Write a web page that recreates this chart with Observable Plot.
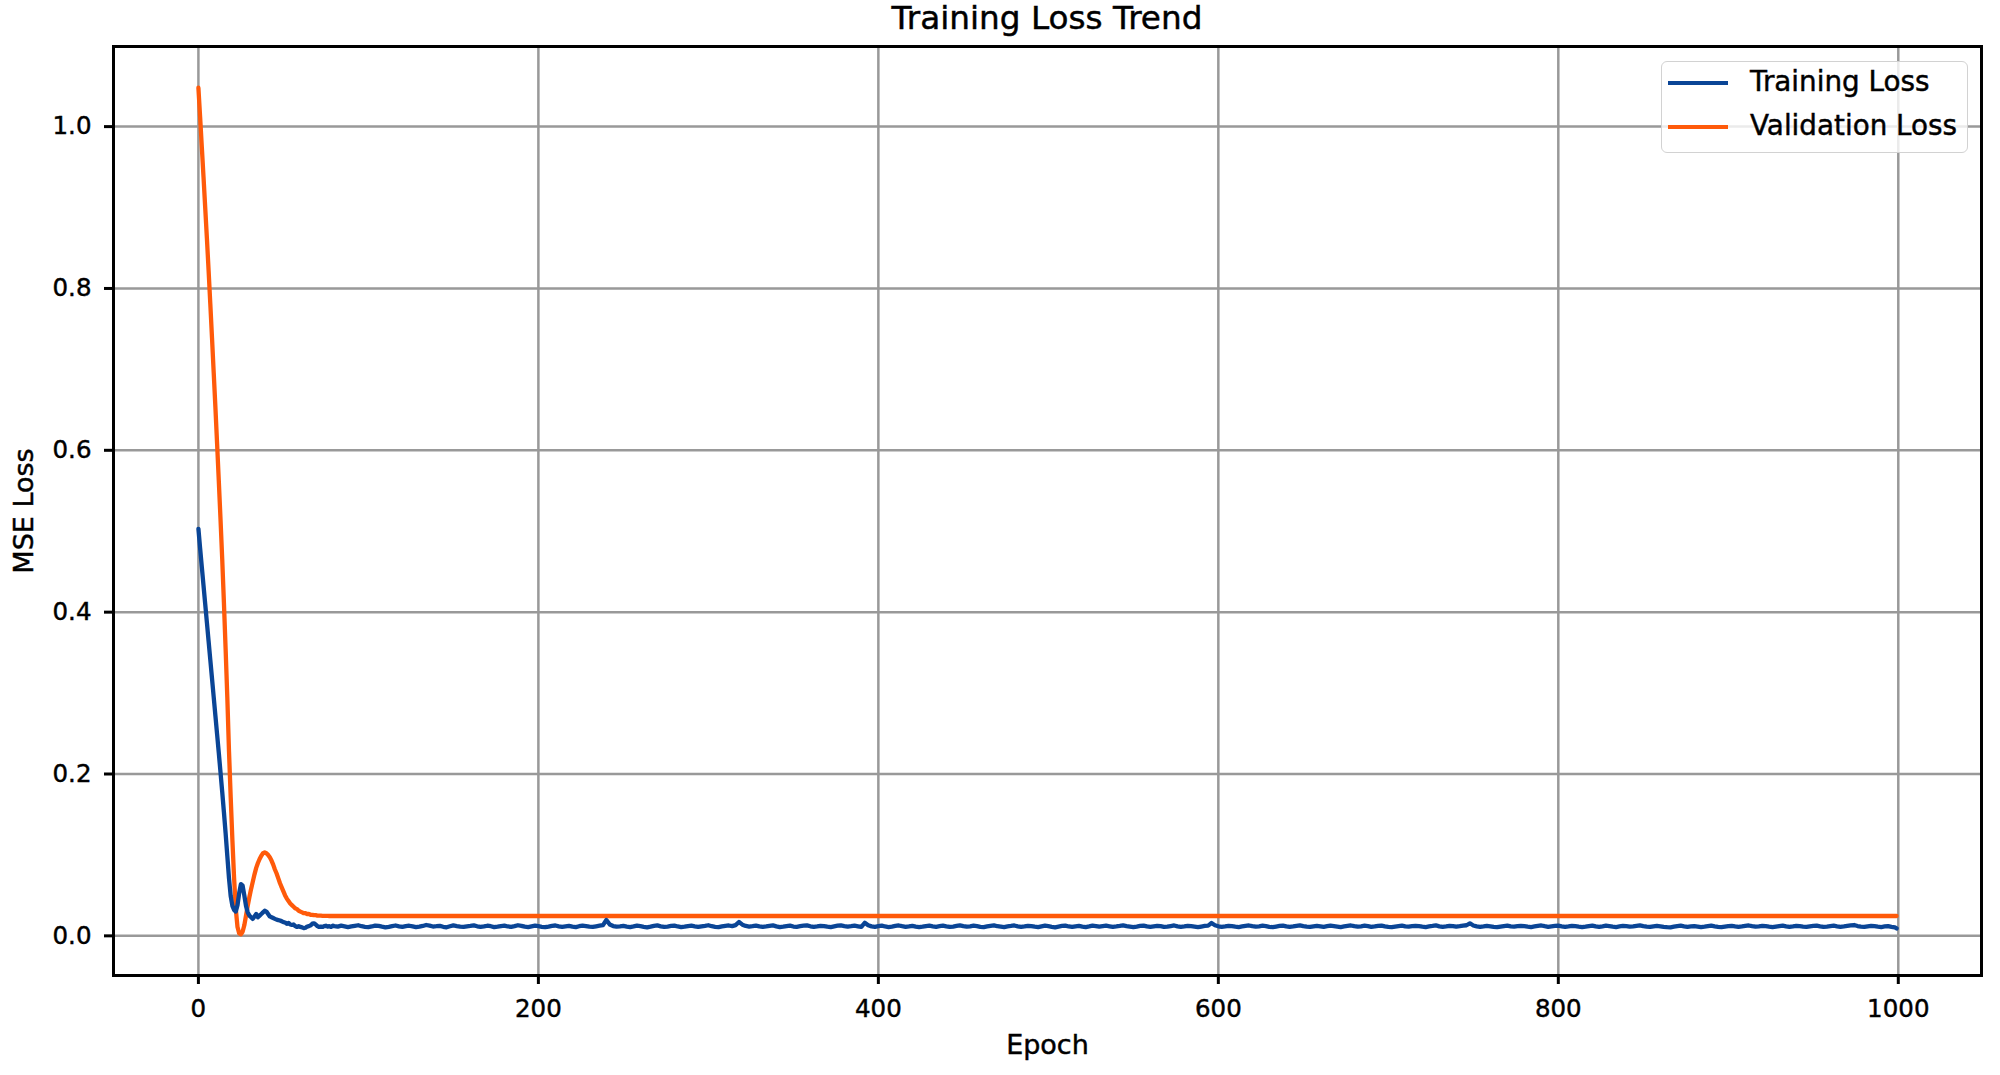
<!DOCTYPE html>
<html>
<head>
<meta charset="utf-8">
<script src="https://cdn.jsdelivr.net/npm/d3@7"></script>
<script src="https://cdn.jsdelivr.net/npm/@observablehq/plot@0.6"></script>
<style>
  html, body { margin: 0; padding: 0; background: #fff; }
  #wrap { position: relative; width: 2000px; height: 1075px; font-family: "DejaVu Sans", sans-serif; color: #000; }
  #title { box-sizing: border-box; height: 44px; padding-top: 2px; font-size: 32.7px; line-height: 32px; text-align: center; padding-left: 94px; white-space: nowrap; -webkit-text-stroke: 0.45px #000; }
  #chart svg { display: block; }
  #chart svg text { stroke: #000; stroke-width: 0.45px; }
  #legend { position: absolute; left: 1661px; top: 61px; width: 307px; height: 92px; box-sizing: border-box;
            border: 1.5px solid #d2d2d2; border-radius: 6px; background: rgba(255,255,255,0.8); }
  .item { position: absolute; left: 0; height: 0; }
  .swatch { position: absolute; left: 6px; width: 60px; height: 4px; margin-top: -2px; }
  .lbl { position: absolute; left: 88px; top: -17px; font-size: 27.8px; line-height: 32px; white-space: nowrap; -webkit-text-stroke: 0.45px #000; }
</style>
</head>
<body>
<div id="wrap">
  <div id="title"></div>
  <div id="chart"></div>
  <div id="legend"></div>
</div>
<script>
// ---- Data ----
const titleText = "Training Loss Trend";
const xLabel = "Epoch";
const yLabel = "MSE Loss";
const seriesNames = ["Training Loss", "Validation Loss"];
const seriesColors = ["#0a4596", "#ff5a0a"];
const xTicks = [0, 200, 400, 600, 800, 1000];
const yTicks = [0.0, 0.2, 0.4, 0.6, 0.8, 1.0];

// Training loss, epochs 0..79 (one value per epoch)
const trainHead = [
  0.503,0.479,0.456,0.433,0.410,0.387,0.364,0.341,0.318,0.295,
  0.272,0.249,0.226,0.202,0.178,0.153,0.127,0.099,0.071,0.049,
  0.037,0.032,0.030,0.038,0.053,0.064,0.062,0.050,0.037,0.029,
  0.025,0.023,0.021,0.024,0.027,0.023,0.025,0.027,0.029,0.031,
  0.030,0.027,0.024,0.023,0.022,0.021,0.020,0.0195,0.019,0.018,
  0.017,0.0165,0.015,0.016,0.014,0.0135,0.014,0.012,0.011,0.012,
  0.011,0.0105,0.0095,0.010,0.0115,0.012,0.013,0.015,0.0155,0.014,
  0.012,0.011,0.0115,0.011,0.012,0.0125,0.0115,0.012,0.011,0.0125
];
// Training loss, epochs 80, 82, ..., 998 (units of 1e-4)
const trainTailStart = 80;
const trainTailStep = 2;
const trainTail = [
  121,114,126,118,109,117,124,131,119,112,108,116,127,122,113,105,111,120,128,117,
  110,119,125,116,107,113,122,134,126,115,119,124,112,106,118,129,121,114,110,117,
  123,130,118,111,116,125,119,108,114,121,127,116,112,120,131,124,113,109,118,126,
  119,112,107,115,124,128,117,110,116,122,113,108,119,127,121,114,111,118,125,132,
  196,140,121,113,118,124,115,109,117,126,120,112,106,114,123,129,118,111,115,122,
  127,116,108,113,121,125,117,110,118,124,131,119,112,107,116,123,128,120,133,171,
  138,122,115,119,126,117,111,116,123,129,118,109,114,121,127,115,112,119,125,130,
  118,111,116,124,120,113,108,117,125,129,121,114,119,126,118,110,162,131,117,112,
  120,127,116,109,114,122,128,119,111,117,124,115,108,113,121,126,118,112,119,125,
  117,110,115,123,129,120,113,118,126,121,112,107,116,124,130,119,114,109,117,122,
  128,118,111,116,124,120,113,108,117,125,119,112,106,114,122,127,116,110,118,123,
  115,109,117,126,121,113,119,125,118,111,116,122,129,120,114,108,115,123,127,117,
  112,118,124,119,110,114,121,128,117,111,116,123,119,113,107,115,122,126,158,131,
  118,112,117,124,120,114,109,116,123,128,119,113,118,125,121,112,108,115,122,127,
  117,111,116,123,129,120,114,110,117,124,118,112,119,126,121,115,109,116,122,128,
  119,113,118,125,120,111,116,123,127,118,112,108,115,121,126,117,113,119,124,120,
  114,109,116,122,129,118,112,117,124,120,113,119,126,131,155,128,117,111,116,122,
  118,112,107,115,121,126,117,113,119,124,120,114,109,116,123,128,119,112,117,122,
  126,118,111,116,123,119,113,108,114,121,127,117,112,118,125,120,114,109,116,122,
  119,113,118,124,129,120,114,110,117,123,118,112,107,105,113,120,125,117,111,116,
  121,115,109,114,120,126,118,112,107,113,119,124,117,111,116,122,128,119,113,118,
  124,119,113,108,115,121,127,118,112,117,123,119,114,110,116,122,126,117,111,115,
  120,125,118,112,116,122,128,134,121,115,110,117,123,119,113,109,116,121,112,104
];
const trainLastEpoch = 999;
const trainLastValue = 0.0092;

// Validation loss, epochs 0..79 (one value per epoch)
const valHead = [
  1.048,1.012,0.975,0.938,0.900,0.862,0.822,0.781,0.739,0.696,
  0.653,0.608,0.562,0.515,0.466,0.412,0.355,0.295,0.228,0.171,
  0.118,0.071,0.033,0.011,0.003,0.002,0.005,0.013,0.025,0.037,
  0.048,0.058,0.067,0.076,0.084,0.090,0.095,0.099,0.102,0.103,
  0.102,0.100,0.097,0.093,0.088,0.082,0.077,0.071,0.065,0.060,
  0.055,0.050,0.046,0.043,0.040,0.038,0.036,0.034,0.033,0.031,
  0.030,0.029,0.028,0.028,0.027,0.027,0.026,0.026,0.0255,0.0255,
  0.025,0.025,0.025,0.0248,0.0248,0.0246,0.0246,0.0245,0.0245,0.0245
];
// Validation loss plateau afterwards
const valTailEpochs = [80, 500, 999];
const valTailValues = [0.0245, 0.0245, 0.0245];

// ---- Build tables ----
const trainRows = [];
trainHead.forEach((v, i) => trainRows.push({epoch: i, loss: v}));
trainTail.forEach((v, i) => trainRows.push({epoch: trainTailStart + i * trainTailStep, loss: v / 1e4}));
trainRows.push({epoch: trainLastEpoch, loss: trainLastValue});

const valRows = [];
valHead.forEach((v, i) => valRows.push({epoch: i, loss: v}));
valTailEpochs.forEach((e, i) => valRows.push({epoch: e, loss: valTailValues[i]}));

// ---- Title ----
document.getElementById("title").textContent = titleText;

// ---- Plot ----
const gridStyle = {stroke: "#999", strokeOpacity: 1, strokeWidth: 2.5};
const chart = Plot.plot({
  width: 2000,
  height: 1031,
  marginTop: 2,
  marginBottom: 100,
  marginLeft: 113,
  marginRight: 19,
  x: {domain: [-49.95, 1048.95]},
  y: {domain: [-0.049, 1.099]},
  style: {fontFamily: "DejaVu Sans", fontSize: "24.5px", color: "black", background: "white", overflow: "visible"},
  marks: [
    Plot.gridX(xTicks, gridStyle),
    Plot.gridY(yTicks, gridStyle),
    Plot.line(valRows, {x: "epoch", y: "loss", stroke: seriesColors[1], strokeWidth: 4.3}),
    Plot.line(trainRows, {x: "epoch", y: "loss", stroke: seriesColors[0], strokeWidth: 4.3}),
    Plot.frame({stroke: "black", strokeWidth: 3}),
    Plot.axisX(xTicks, {tickSize: 9, strokeWidth: 3, tickPadding: 15, tickFormat: "d", label: null, fontSize: 24.5}),
    Plot.axisY(yTicks, {tickSize: 9, strokeWidth: 3, tickPadding: 13, tickFormat: ".1f", label: null, fontSize: 24.5}),
    Plot.text([xLabel], {frameAnchor: "bottom", dy: 78, lineAnchor: "bottom", fontSize: 27, text: d => d}),
    Plot.text([yLabel], {frameAnchor: "left", dx: -81, rotate: -90, lineAnchor: "bottom", textAnchor: "middle", fontSize: 27, text: d => d})
  ]
});
document.getElementById("chart").appendChild(chart);

// ---- Legend ----
const legend = document.getElementById("legend");
seriesNames.forEach((name, i) => {
  const item = document.createElement("div");
  item.className = "item";
  item.style.top = (21 + i * 44) + "px";
  const sw = document.createElement("div");
  sw.className = "swatch";
  sw.style.background = seriesColors[i];
  const lb = document.createElement("div");
  lb.className = "lbl";
  lb.textContent = name;
  item.appendChild(sw);
  item.appendChild(lb);
  legend.appendChild(item);
});
</script>
</body>
</html>
